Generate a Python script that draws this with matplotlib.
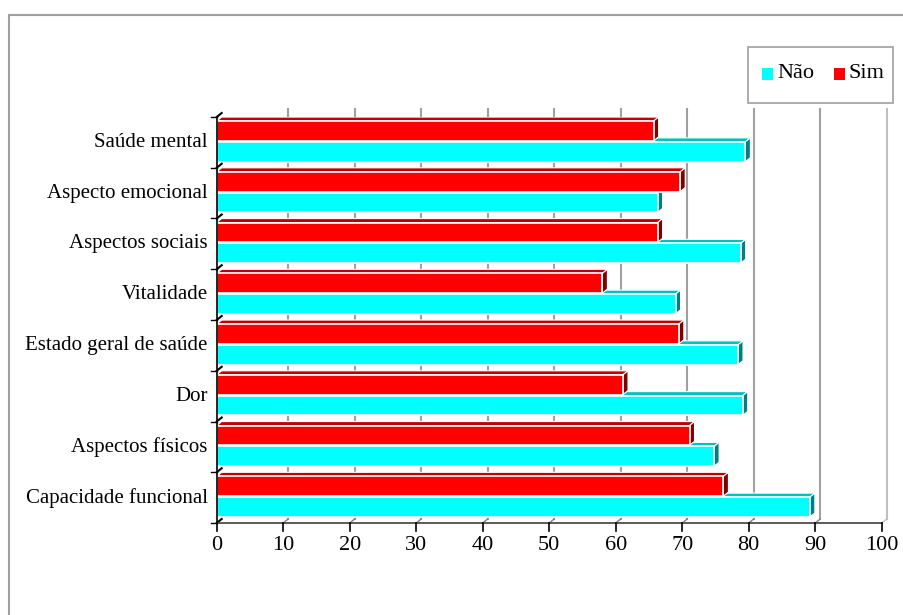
import matplotlib
matplotlib.use('Agg')
import matplotlib.pyplot as plt
from matplotlib.patches import Rectangle, Polygon
from matplotlib.lines import Line2D

# Dimensões (de baixo para cima)
categorias = [
    "Capacidade funcional",
    "Aspectos físicos",
    "Dor",
    "Estado geral de saúde",
    "Vitalidade",
    "Aspectos sociais",
    "Aspecto emocional",
    "Saúde mental",
]
nao = [89.2, 74.8, 79.1, 78.4, 69.0, 78.8, 66.3, 79.5]
sim = [76.2, 71.1, 61.1, 69.5, 58.0, 66.3, 69.7, 65.7]
xticks = list(range(0, 101, 10))

W, H = 904, 615
fig = plt.figure(figsize=(W / 100, H / 100), dpi=100)
plt.rcParams['font.family'] = ['Liberation Serif', 'DejaVu Serif']

# moldura externa (so lados esquerdo e superior aparecem)
fig.add_artist(Rectangle((9 / W, -0.2), 1.2, (H - 15) / H + 0.2,
                         transform=fig.transFigure, fill=False,
                         edgecolor='#a0a0a0', lw=1.5))

x0, x1 = 216.7, 881.7
ytop, ybot = 117, 523
ax = fig.add_axes([x0 / W, (H - ybot) / H, (x1 - x0) / W, (ybot - ytop) / H])
ax.set_xlim(0, 100)
ax.set_ylim(0, len(categorias))
ax.axis('off')

# profundidade 3D em unidades de dados
px_x = 100 / (x1 - x0)
px_y = len(categorias) / (ybot - ytop)
DX, DY = 5 * px_x, 4 * px_y
GX, GY = 5 * px_x, 4 * px_y
TOP_BACK = len(categorias) + 8 * px_y

# parede do fundo: linhas de grade
for v in xticks[1:]:
    cor = '#c0c0c0' if v == 100 else '#a0a0a0'
    ax.add_line(Line2D([v + GX, v + GX], [GY, TOP_BACK], color=cor,
                       lw=1.5, clip_on=False, zorder=1))
    ax.add_line(Line2D([v, v + GX], [0, GY], color='#808080' if v < 100 else '#c0c0c0',
                       lw=1, clip_on=False, zorder=1))


def barra3d(v, base, alt, cores, z):
    frente, topo, lado = cores
    ax.add_patch(Polygon([(0, base + alt), (v, base + alt),
                          (v + DX, base + alt + DY), (DX, base + alt + DY)],
                         closed=True, facecolor=topo, edgecolor='white',
                         lw=0.8, zorder=z))
    ax.add_patch(Polygon([(v, base), (v + DX, base + DY),
                          (v + DX, base + alt + DY), (v, base + alt)],
                         closed=True, facecolor=lado, edgecolor='white',
                         lw=0.8, zorder=z))
    ax.add_patch(Rectangle((0, base), v, alt, facecolor=frente,
                           edgecolor='white', lw=1.2, zorder=z + 0.5))


COR_NAO = ('#00ffff', '#00c0c0', '#008080')
COR_SIM = ('#ff0000', '#c00000', '#800000')
ALT = 0.39
for i, (vn, vs) in enumerate(zip(nao, sim)):
    z = 2 + i * 2
    barra3d(vn, i + 0.12, ALT, COR_NAO, z)
    barra3d(vs, i + 0.53, ALT, COR_SIM, z + 1)

# eixo das categorias
ax.add_line(Line2D([0, 0], [0, len(categorias)], color='black', lw=1.2,
                   clip_on=False, zorder=40))
for k in range(len(categorias) + 1):
    ax.add_line(Line2D([-6 * px_x, 0], [k, k], color='black', lw=1,
                       clip_on=False, zorder=40))
    ax.add_line(Line2D([0, DX], [k, k + DY], color='black', lw=1.5,
                       clip_on=False, zorder=40))
for i, nome in enumerate(categorias):
    ax.text(-9 * px_x, i + 0.5, nome, ha='right', va='center', fontsize=15)

# eixo dos valores
ax.add_line(Line2D([0, 100], [0, 0], color='#404040', lw=1.2,
                   clip_on=False, zorder=40))
for v in xticks:
    ax.add_line(Line2D([v, v], [0, -8 * px_y], color='black', lw=1.2,
                       clip_on=False, zorder=40))
    ax.text(v, -13 * px_y, str(v), ha='center', va='top', fontsize=16)

# legenda
fig.add_artist(Rectangle((748 / W, (H - 103) / H), 145 / W, 56 / H,
                         transform=fig.transFigure, facecolor='white',
                         edgecolor='#a0a0a0', lw=1.2))
for cor, rot, xq in [('#00ffff', 'Não', 762), ('#ff0000', 'Sim', 834)]:
    fig.add_artist(Rectangle((xq / W, (H - 80) / H), 11 / W, 12 / H,
                             transform=fig.transFigure, facecolor=cor,
                             edgecolor='none'))
    fig.text((xq + 15) / W, (H - 74) / H, rot, ha='left', va='center',
             fontsize=16)

fig.savefig('out.png', dpi=100)
